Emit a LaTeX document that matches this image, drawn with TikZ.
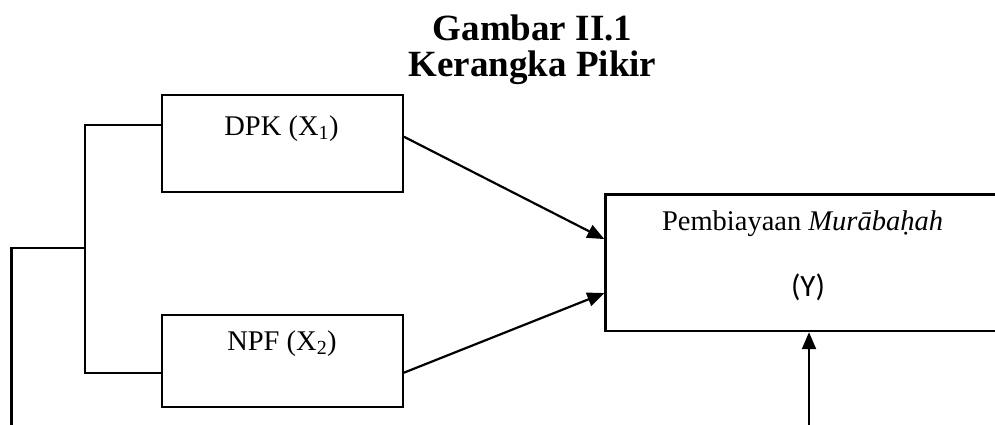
\documentclass[tikz,border=0pt]{standalone}
\usepackage{fontspec}
\setmainfont{Liberation Serif}
\newfontfamily\labelsans{Carlito}
\usetikzlibrary{arrows.meta}
\begin{document}
\begin{tikzpicture}[x=1pt,y=-1pt,
  box/.style={draw, line width=2.2pt, inner sep=0pt, minimum width=241pt},
  wire/.style={line width=2.2pt},
  arr/.style={wire, -{Triangle[length=17pt,width=14pt]}},
  bodytext/.style={font=\fontsize{28.5}{34}\selectfont, anchor=base, inner sep=0pt},
  titletext/.style={font=\fontsize{37}{44}\selectfont\bfseries, anchor=base, inner sep=0pt}]
\useasboundingbox (0,0) rectangle (995,424);
\clip (0,0) rectangle (995,424);

% heading
\node[titletext] (t1) at (532.5,40) {Gambar II.1};
\node[titletext] (t2) at (532.5,76) {Kerangka Pikir};

% variable boxes
\node[box, minimum height=97pt] (dpk) at (282.3,143.5) {};
\node[box, minimum height=92pt] (npf) at (282.3,361) {};
\node[box, minimum width=420pt, minimum height=136.7pt, anchor=north west] (ybox) at (604.3,193.3) {};

% box texts
\node[bodytext] (dpklab) at (281.5,135) {DPK (X\textsubscript{1})};
\node[bodytext] (npflab) at (282,350) {NPF (X\textsubscript{2})};
\node[bodytext] (ylab) at (802.5,230) {Pembiayaan \textit{Murābaḥah}};
\node[bodytext, font=\labelsans\fontsize{31}{36}\selectfont] (ysym) at (808,296.5) {(Y)};

% arrows into the dependent variable
\draw[arr] ([yshift=6.8pt]dpk.east) -- ([yshift=23.7pt]ybox.west);
\draw[arr] ([yshift=-11.7pt]npf.east) -- ([yshift=-30.3pt]ybox.west);

% bracket joining both independent variables
\coordinate (bus) at (85,248);
\coordinate (leftend) at (11.4,430);
\draw[wire] ([yshift=18.5pt]dpk.west) -| (bus) |- ([yshift=-12pt]npf.west);
\draw[wire] (bus) -| (leftend);

% arrow from below into the dependent variable
\coordinate (ysrc) at (809,430);
\draw[arr] (ysrc) -- (ysrc |- ybox.south);
\end{tikzpicture}
\end{document}
